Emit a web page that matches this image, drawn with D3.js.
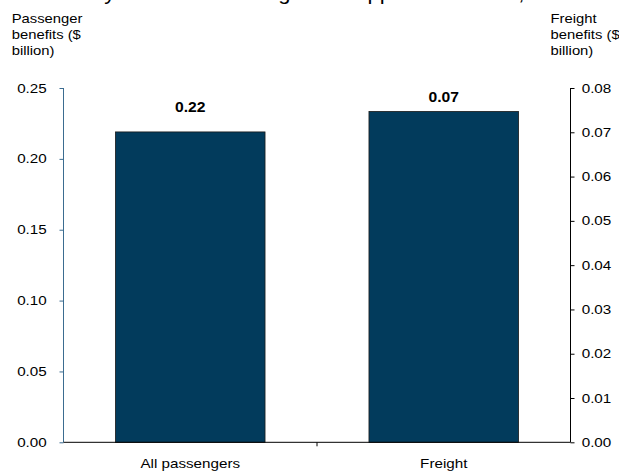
<!DOCTYPE html>
<html>
<head>
<meta charset="utf-8">
<script src="https://cdn.jsdelivr.net/npm/d3@7"></script>
<style>
  html, body { margin: 0; padding: 0; background: #fff; }
  svg { display: block; font-family: "Liberation Sans", Arial, sans-serif; }
</style>
</head>
<body>
<svg id="chart" width="619" height="472"></svg>
<script>
// ---- data ----
const categories = ["All passengers", "Freight"];
const values = [0.219, 0.0747];           // passenger on left axis, freight on right axis
const valueLabels = ["0.22", "0.07"];
const axisOf = ["left", "right"];
const leftTicks = [0, 0.05, 0.10, 0.15, 0.20, 0.25];
const rightTicks = [0, 0.01, 0.02, 0.03, 0.04, 0.05, 0.06, 0.07, 0.08];
const leftTitle = ["Passenger", "benefits ($", "billion)"];
const rightTitle = ["Freight", "benefits ($", "billion)"];
const titleText = "Summary of benefits for high rail support scenarios, 2031";

// ---- style / layout ----
const labelGap = [19.5, 9];
const sx = 1.17;           // horizontal stretch of the text
const barColor = "#023b5c";
const leftAxisColor = "#3b6c90";

const svg = d3.select("#chart");

const x = d3.scaleBand().domain(categories).range([63.5, 570.5])
  .paddingInner(0.41).paddingOuter(0.205);
const yL = d3.scaleLinear().domain([0, 0.25]).range([442.3, 88]);
const yR = d3.scaleLinear().domain([0, 0.08]).range([442.3, 88]);
const yOf = i => axisOf[i] === "left" ? yL : yR;

function stretchedText(g, tx, ty, str, anchor, size, weight, k) {
  g.append("text")
    .attr("transform", `translate(${tx},${ty}) scale(${k},1)`)
    .attr("text-anchor", anchor)
    .attr("font-size", size)
    .attr("font-weight", weight || "normal")
    .attr("fill", "#000")
    .text(str);
}

// title (cut off at the top, only descenders show)
stretchedText(svg, 21, -0.5, titleText, "start", 21, "normal", 1.05);

// bars
svg.append("g").selectAll("rect").data(categories).join("rect")
  .attr("x", d => x(d))
  .attr("width", x.bandwidth())
  .attr("y", (d, i) => yOf(i)(values[i]))
  .attr("height", (d, i) => yOf(i)(0) - yOf(i)(values[i]))
  .attr("fill", barColor)
  .attr("stroke", "#1a1a1a")
  .attr("stroke-width", 0.8);

// value labels
const vl = svg.append("g");
categories.forEach((c, i) => {
  stretchedText(vl, x(c) + x.bandwidth() / 2, yOf(i)(values[i]) - labelGap[i],
    valueLabels[i], "middle", 14, "bold", 1.12);
});

// left axis
const gl = svg.append("g").attr("transform", "translate(63.5,0)")
  .call(d3.axisLeft(yL).tickValues(leftTicks).tickSize(4).tickFormat(() => ""));
gl.select(".domain").attr("stroke", leftAxisColor).attr("d", `M0,${yL(0.25)}V${yL(0)}`);
gl.selectAll(".tick line").attr("stroke", leftAxisColor);
leftTicks.forEach(t => stretchedText(svg, 46.7, yL(t) + 4.6, d3.format(".2f")(t), "end", 13, "normal", sx));

// right axis
const gr = svg.append("g").attr("transform", "translate(570.5,0)")
  .call(d3.axisRight(yR).tickValues(rightTicks).tickSize(4).tickFormat(() => ""));
gr.select(".domain").attr("stroke", "#000").attr("d", `M0,${yR(0.08)}V${yR(0)}`);
gr.selectAll(".tick line").attr("stroke", "#000");
rightTicks.forEach(t => stretchedText(svg, 581.7, yR(t) + 4.6, d3.format(".2f")(t), "start", 13, "normal", sx));

// bottom axis
const gb = svg.append("g");
gb.append("line").attr("x1", x.range()[0]).attr("x2", x.range()[1])
  .attr("y1", yL(0)).attr("y2", yL(0)).attr("stroke", "#000");
const boundary = (x(categories[0]) + x.bandwidth() + x(categories[1])) / 2;
gb.append("line").attr("x1", boundary).attr("x2", boundary)
  .attr("y1", yL(0)).attr("y2", yL(0) + 4).attr("stroke", "#000");
categories.forEach(c => stretchedText(gb, x(c) + x.bandwidth() / 2, 468.3, c, "middle", 13, "normal", sx));

// axis titles
leftTitle.forEach((t, i) => stretchedText(svg, 11.7, 23.3 + i * 16, t, "start", 13, "normal", 1.14));
rightTitle.forEach((t, i) => stretchedText(svg, 550.5, 23.3 + i * 16, t, "start", 13, "normal", 1.14));
</script>
</body>
</html>
